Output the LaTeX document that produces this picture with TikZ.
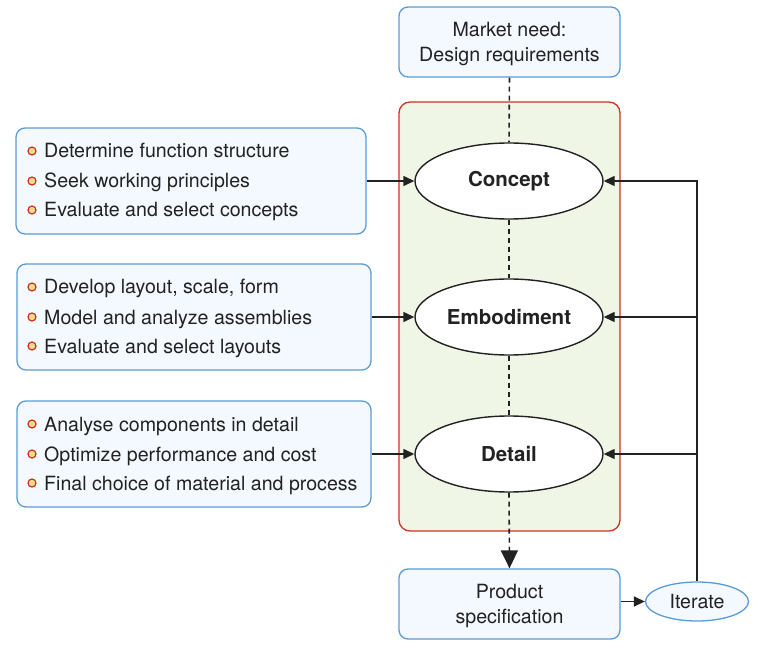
\documentclass[tikz,border=0pt]{standalone}
\usepackage{fontspec}
\setmainfont{TeX Gyre Heros}
\usetikzlibrary{shapes.geometric,arrows.meta}
\definecolor{bblue}{HTML}{5B9BD5}
\definecolor{bfill}{HTML}{F4F9FF}
\definecolor{rred}{HTML}{CC3322}
\definecolor{gfill}{HTML}{F0F6E6}
\definecolor{ink}{HTML}{222222}
\definecolor{dotfill}{HTML}{F0DC8C}
\begin{document}
\begin{tikzpicture}[x=1pt,y=-1pt,
  txt/.style={font=\fontsize{19.6}{25}\selectfont, text=ink},
  bluebox/.style={draw=bblue, fill=bfill, rounded corners=9pt, line width=1.3pt, inner sep=0pt},
  stage/.style={ellipse, draw=ink, fill=white, line width=1.4pt, minimum width=188pt, minimum height=76pt, inner sep=0pt, font=\fontsize{20.5}{24}\selectfont\bfseries, text=ink},
  arr/.style={draw=ink, line width=1.4pt, -{Triangle[length=11pt,width=10pt]}},
  dsh/.style={draw=ink, line width=1.6pt, dash pattern=on 5pt off 4pt},
  line/.style={txt, anchor=base west, inner sep=0pt},
  dot/.style={circle, draw=rred, fill=dotfill, line width=1.2pt, minimum size=8pt, inner sep=0pt}
]
\useasboundingbox (0,0) rectangle (768,652);

% central green panel
\node[draw=rred, fill=gfill, rounded corners=11pt, line width=1.3pt, minimum width=221pt, minimum height=429pt, inner sep=0pt] (panel) at (509.5,316.5) {};

% top and bottom boxes
\node[bluebox, minimum width=221pt, minimum height=70pt] (market) at (509.5,42) {};
\node[txt, align=center, inner sep=0pt] (marketlbl) at ([yshift=-1.5pt]market.center) {Market need:\\Design requirements};
\node[bluebox, minimum width=221pt, minimum height=70pt] (spec) at (509.5,604) {};
\node[txt, align=center, inner sep=0pt] (speclbl) at ([yshift=-1.5pt]spec.center) {Product\\specification};

% stages
\node[stage] (concept) at (509,181) {Concept};
\node[stage] (emb) at (509,317) {Embodiment};
\node[stage] (detail) at (509,454) {Detail};

% iterate
\node[ellipse, draw=bblue, fill=bfill, line width=1.3pt, minimum width=103pt, minimum height=39pt, inner sep=0pt, txt] (iter) at (697,601.5) {Iterate};

% left boxes
\node[bluebox, minimum width=350pt, minimum height=106pt] (b1) at (191,181) {};
\node[bluebox, minimum width=354pt, minimum height=106pt] (b2) at (194,317) {};
\node[bluebox, minimum width=354pt, minimum height=106pt] (b3) at (194,454) {};

\node[dot] (d11) at (32,151) {}; \node[line] (t11) at (44,158) {Determine function structure};
\node[dot] (d12) at (32,181) {}; \node[line] (t12) at (44,188) {Seek working principles};
\node[dot] (d13) at (32,210) {}; \node[line] (t13) at (44,217) {Evaluate and select concepts};

\node[dot] (d21) at (32,287) {}; \node[line] (t21) at (44,294) {Develop layout, scale, form};
\node[dot] (d22) at (32,317) {}; \node[line] (t22) at (44,324) {Model and analyze assemblies};
\node[dot] (d23) at (32,346) {}; \node[line] (t23) at (44,353) {Evaluate and select layouts};

\node[dot] (d31) at (32,424) {}; \node[line] (t31) at (44,431) {Analyse components in detail};
\node[dot] (d32) at (32,454) {}; \node[line] (t32) at (44,461) {Optimize performance and cost};
\node[dot] (d33) at (32,483) {}; \node[line] (t33) at (44,490) {Final choice of material and process};

% connectors
\draw[dsh] (market.south) -- (concept.north);
\draw[dsh] (concept.south) -- (emb.north);
\draw[dsh] (emb.south) -- (detail.north);
\draw[dsh, -{Triangle[length=18pt,width=17pt]}] (detail.south) -- (spec.north);

\draw[arr] (b1.east) -- (concept.west);
\draw[arr] (b2.east) -- (emb.west);
\draw[arr] (b3.east) -- (detail.west);

\draw[arr] (spec.east |- iter.west) -- (iter.west);
\draw[arr] (iter.north) |- (concept.east);
\draw[arr] (iter.north |- emb.east) -- (emb.east);
\draw[arr] (iter.north |- detail.east) -- (detail.east);
\end{tikzpicture}
\end{document}
